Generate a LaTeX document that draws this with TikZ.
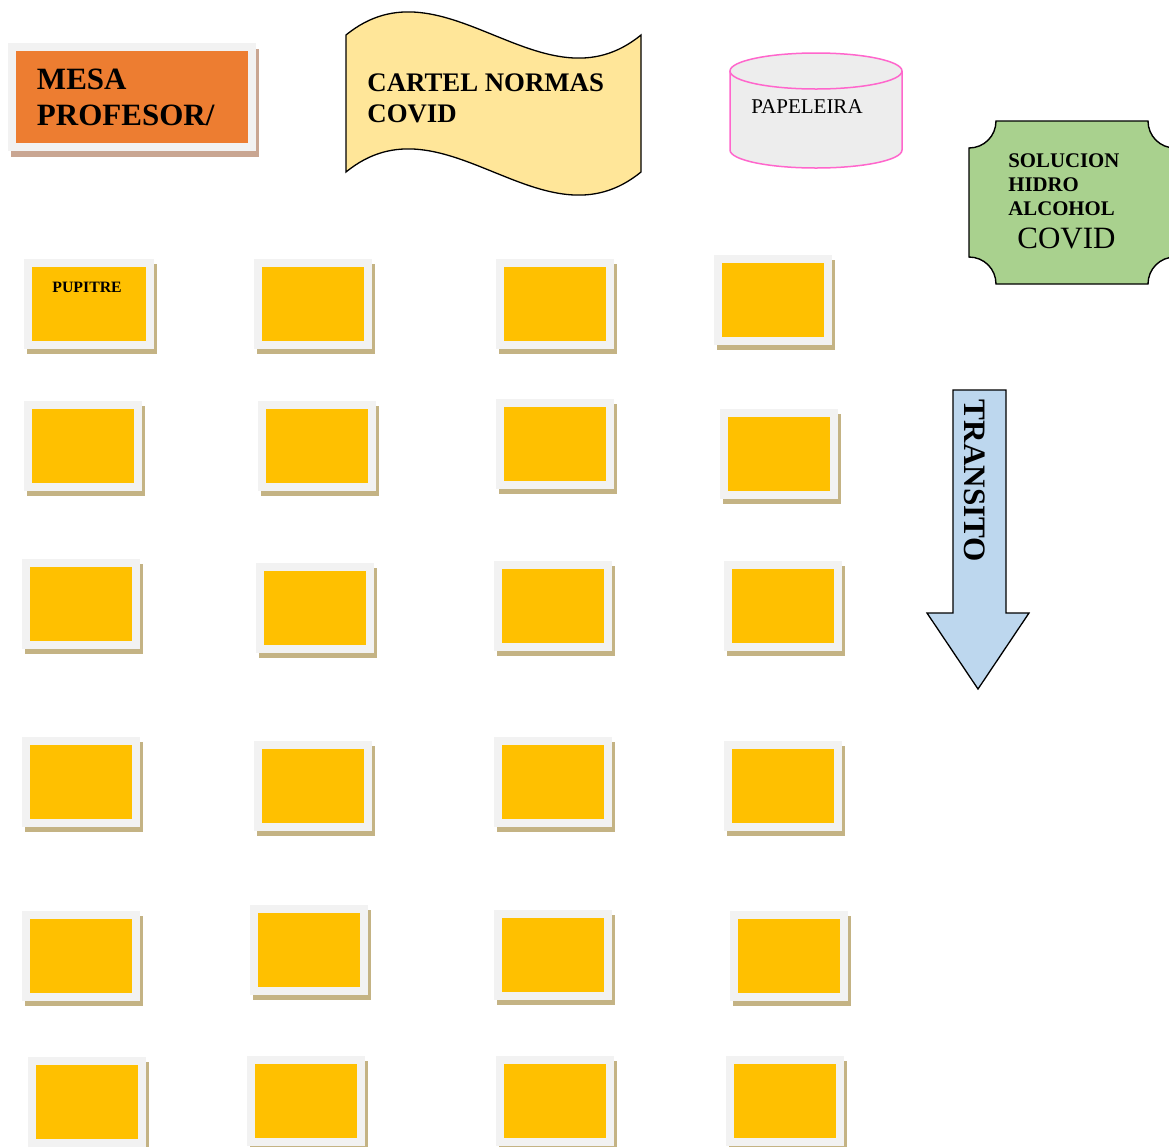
\documentclass[tikz,border=0pt]{standalone}
\usepackage{fontspec}
\setmainfont{Liberation Serif}
\definecolor{deskyellow}{HTML}{FFC000}
\definecolor{framegray}{HTML}{F2F2F2}
\definecolor{deskshadow}{HTML}{C4B384}
\definecolor{mesaorange}{HTML}{ED7D31}
\definecolor{mesashadow}{HTML}{C9A692}
\definecolor{cartelyellow}{HTML}{FFE699}
\definecolor{binpink}{HTML}{FF66CC}
\definecolor{bingray}{HTML}{EDEDED}
\definecolor{gelgreen}{HTML}{A9D18E}
\definecolor{transitblue}{HTML}{BDD7EE}

\begin{document}
\begin{tikzpicture}[x=0.5pt, y=-0.5pt,
    framed/.style={draw=framegray, line width=4pt, inner sep=0pt},
    pupitre/.style={framed, fill=deskyellow, minimum width=55pt,
      minimum height=41pt, preaction={draw=deskshadow, fill=deskshadow,
      transform canvas={xshift=1.5pt, yshift=-2.5pt}}},
    outline/.style={draw=black, line width=0.65pt}]
  \fill[white] (0,0) rectangle (1169,1147);
  \useasboundingbox (0,0) rectangle (1169,1147);

  % teacher's desk
  \node[framed, fill=mesaorange, minimum width=120pt, minimum height=50pt,
    text width=95pt, align=left, font=\fontsize{15.5}{18}\selectfont\bfseries,
    preaction={draw=mesashadow, fill=mesashadow,
    transform canvas={xshift=1.5pt, yshift=-3pt}}] (mesa) at (132,97)
    {MESA\\PROFESOR/};

  % poster
  \draw[outline, fill=cartelyellow] (346,35) .. controls (444,-45) and (543,115) .. (641,35)
    -- (641,172) .. controls (543,252) and (444,92) .. (346,172) -- cycle;
  \node[anchor=north west, inner sep=0pt, align=left,
    font=\fontsize{13.4}{15.5}\selectfont\bfseries] (cartel) at (367,73)
    {CARTEL NORMAS\\COVID};

  % bin
  \draw[draw=binpink, line width=0.75pt, fill=bingray] (730,71) -- (730,150)
    .. controls (730,160) and (768.5,168) .. (816,168)
    .. controls (863.5,168) and (902,160) .. (902,150) -- (902,71);
  \draw[draw=binpink, line width=0.75pt, fill=bingray] (816,71) ellipse [x radius=43pt, y radius=9pt];
  \node[anchor=base west, inner sep=0pt, font=\fontsize{10.5}{12}\selectfont] (papeleira)
    at (751,113) {PAPELEIRA};

  % hand gel
  \draw[outline, line width=0.7pt, fill=gelgreen] (996,121) -- (1148,121)
    .. controls (1148,136) and (1160,148) .. (1175,148) -- (1175,257)
    .. controls (1160,257) and (1148,269) .. (1148,284) -- (996,284)
    .. controls (996,269) and (984,257) .. (969,257) -- (969,148)
    .. controls (984,148) and (996,136) .. (996,121) -- cycle;
  \node[anchor=north west, inner sep=0pt, text width=70pt, align=left] (solucion) at (1008,153)
    {{\fontsize{10.4}{12.2}\selectfont\bfseries SOLUCION\\HIDRO\\ALCOHOL\par}%
     {\fontsize{15.5}{16.5}\selectfont\hspace*{4.5pt}COVID\par}};

  % way out
  \draw[outline, fill=transitblue] (953,390) -- (1006,390) -- (1006,613) -- (1029,613)
    -- (978,689) -- (927,613) -- (953,613) -- cycle;
  \node[rotate=-90, inner sep=0pt, font=\fontsize{15.6}{18}\selectfont\bfseries]
    (transito) at (975,481) {TRANSITO};

  % desks
  \node[pupitre, minimum width=61pt] (p11) at (89,304) {};
  \node[pupitre] (p12) at (313,304) {};
  \node[pupitre] (p13) at (555,304) {};
  \node[pupitre] (p14) at (773,300) {};
  \node[pupitre] (p21) at (83,446) {};
  \node[pupitre] (p22) at (317,446) {};
  \node[pupitre] (p23) at (555,444) {};
  \node[pupitre] (p24) at (779,454) {};
  \node[pupitre] (p31) at (81,604) {};
  \node[pupitre] (p32) at (315,608) {};
  \node[pupitre] (p33) at (553,606) {};
  \node[pupitre] (p34) at (783,606) {};
  \node[pupitre] (p41) at (81,782) {};
  \node[pupitre] (p42) at (313,786) {};
  \node[pupitre] (p43) at (553,782) {};
  \node[pupitre] (p44) at (783,786) {};
  \node[pupitre] (p51) at (81,956) {};
  \node[pupitre] (p52) at (309,950) {};
  \node[pupitre] (p53) at (553,955) {};
  \node[pupitre] (p54) at (789,956) {};
  \node[pupitre] (p61) at (87,1102) {};
  \node[pupitre] (p62) at (306,1101) {};
  \node[pupitre] (p63) at (555,1101) {};
  \node[pupitre] (p64) at (785,1101) {};
  \node[anchor=base west, inner sep=0pt, font=\fontsize{7.9}{9}\selectfont\bfseries]
    (pupitre) at (52,292) {PUPITRE};
\end{tikzpicture}
\end{document}
